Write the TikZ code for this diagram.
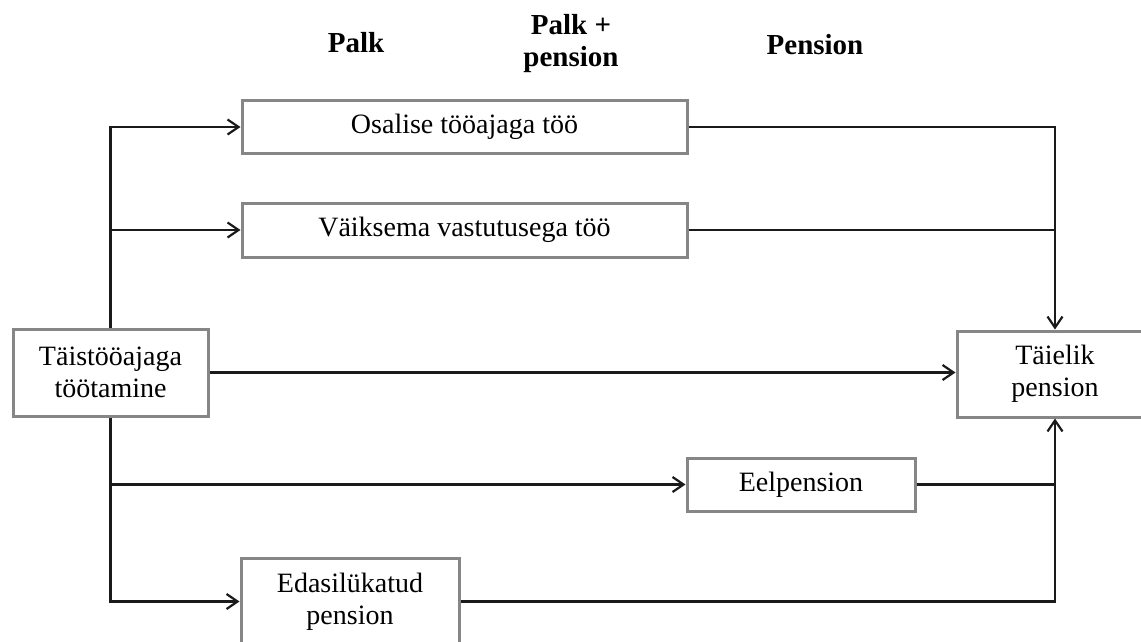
\documentclass[tikz,border=0pt]{standalone}
\usepackage{fontspec}
\setmainfont{Liberation Serif}
\usetikzlibrary{arrows.meta,positioning}
\definecolor{boxgray}{HTML}{868686}
\definecolor{linkgray}{HTML}{1A1A1A}

\begin{document}
\begin{tikzpicture}[x=1pt, y=-1pt,
  box/.style={draw=boxgray, line width=3pt, inner sep=0pt, align=center, font=\fontsize{28}{32}\selectfont},
  head/.style={align=center, font=\fontsize{29}{32}\selectfont\bfseries},
  link/.style={draw=linkgray, line width=2.2pt},
  arr/.style={link, -{Straight Barb[length=11pt, width=15pt]}}]
\useasboundingbox (0,0) rectangle (1141,641);

% column headings
\node[head] (palk) at (356,43) {Palk};
\node[head] (mix) at (571,44) {Palk +\\pension};
\node[head] (pens) at (815,45) {Pension};

% boxes
\node[box, minimum width=195pt, minimum height=87pt] (full) at (110.5,372.5) {Täistööajaga\\töötamine};
\node[box, minimum width=445pt, minimum height=53pt] (part) at (464.5,127) {Osalise tööajaga töö};
\node[box, minimum width=445pt, minimum height=54pt] (less) at (464.5,230) {Väiksema vastutusega töö};
\node[box, minimum width=228pt, minimum height=53pt] (early) at (801,484.5) {Eelpension};
\node[box, minimum width=218pt, minimum height=87pt] (late) at (350,601.5) {Edasilükatud\\pension};
\node[box, minimum width=196pt, minimum height=86pt] (total) at (1055,374) {Täielik\\pension};

% from full time work
\draw[arr] (full.north) |- (part.west);
\draw[arr] (full.north) |- (less.west);
\draw[arr] (full.east) -- (full.east -| total.west);
\draw[arr] (full.south) |- (early.west);
\draw[arr] (full.south) |- (late.west);

% into full pension
\draw[arr] (part.east) -| (total.north);
\draw[link] (less.east) -- (less.east -| total.north);
\draw[link] (early.east) -- (early.east -| total.south);
\draw[arr] (late.east) -| (total.south);

\end{tikzpicture}
\end{document}
